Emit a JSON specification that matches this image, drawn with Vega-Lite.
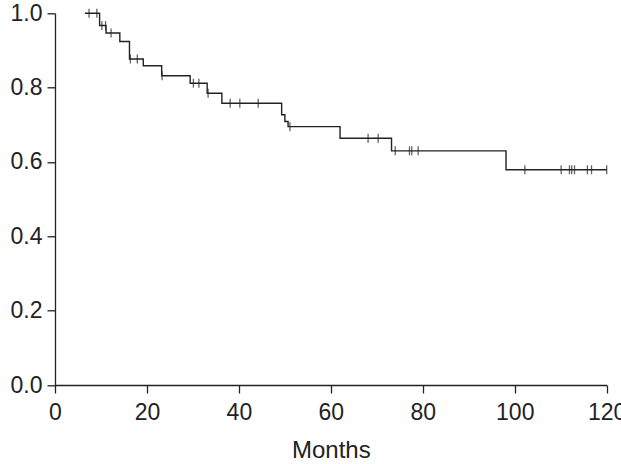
{
  "$schema": "https://vega.github.io/schema/vega-lite/v6.json",
  "width": 551.7,
  "height": 371.7,
  "autosize": "none",
  "padding": {"left": 55, "top": 13.3, "right": 14.3, "bottom": 79},
  "background": "white",
  "config": {
    "view": {"stroke": null},
    "font": "Liberation Sans",
    "axis": {
      "grid": false,
      "domainColor": "#222",
      "domainWidth": 1.3,
      "tickColor": "#222",
      "tickWidth": 1.3,
      "tickSize": 8,
      "labelFontSize": 23,
      "labelColor": "#222",
      "labelFlush": false,
      "labelOverlap": false,
      "titleFontSize": 24,
      "titleFontWeight": "normal",
      "titleColor": "#222"
    }
  },
  "datasets": {
    "steps": [
      {"t": 6.5, "s": 1.0},
      {"t": 9.7, "s": 0.967},
      {"t": 11.1, "s": 0.947},
      {"t": 14.1, "s": 0.924},
      {"t": 16.2, "s": 0.877},
      {"t": 19.2, "s": 0.859},
      {"t": 23.2, "s": 0.832},
      {"t": 29.4, "s": 0.812},
      {"t": 33.1, "s": 0.785},
      {"t": 36.3, "s": 0.758},
      {"t": 49.3, "s": 0.727},
      {"t": 50.0, "s": 0.709},
      {"t": 50.7, "s": 0.695},
      {"t": 62.0, "s": 0.664},
      {"t": 73.2, "s": 0.63},
      {"t": 98.1, "s": 0.579},
      {"t": 120.0, "s": 0.579}
    ],
    "censored": [
      {"t": 7.4, "s": 1.0},
      {"t": 9.1, "s": 1.0},
      {"t": 10.2, "s": 0.967},
      {"t": 11.0, "s": 0.967},
      {"t": 12.2, "s": 0.947},
      {"t": 16.4, "s": 0.877},
      {"t": 17.9, "s": 0.877},
      {"t": 23.3, "s": 0.832},
      {"t": 30.1, "s": 0.812},
      {"t": 31.3, "s": 0.812},
      {"t": 33.3, "s": 0.785},
      {"t": 38.1, "s": 0.758},
      {"t": 40.2, "s": 0.758},
      {"t": 44.2, "s": 0.758},
      {"t": 51.1, "s": 0.695},
      {"t": 68.1, "s": 0.664},
      {"t": 70.3, "s": 0.664},
      {"t": 74.0, "s": 0.63},
      {"t": 77.1, "s": 0.63},
      {"t": 77.6, "s": 0.63},
      {"t": 79.0, "s": 0.63},
      {"t": 102.2, "s": 0.579},
      {"t": 110.1, "s": 0.579},
      {"t": 111.9, "s": 0.579},
      {"t": 112.4, "s": 0.579},
      {"t": 113.0, "s": 0.579},
      {"t": 115.8, "s": 0.579},
      {"t": 116.7, "s": 0.579},
      {"t": 120.0, "s": 0.579}
    ]
  },
  "layer": [
    {
      "data": {"name": "steps"},
      "mark": {"type": "line", "interpolate": "step-after", "color": "#222", "strokeWidth": 1.4},
      "encoding": {
        "x": {
          "field": "t", "type": "quantitative",
          "scale": {"domain": [0, 120], "nice": false, "zero": false},
          "axis": {"title": "Months", "values": [0, 20, 40, 60, 80, 100, 120], "labelPadding": 8, "titlePadding": 14}
        },
        "y": {
          "field": "s", "type": "quantitative",
          "scale": {"domain": [0, 1], "nice": false},
          "axis": {"title": null, "values": [0, 0.2, 0.4, 0.6, 0.8, 1.0], "format": ".1f", "labelPadding": 5}
        }
      }
    },
    {
      "data": {"name": "censored"},
      "mark": {"type": "tick", "orient": "vertical", "color": "#222", "size": 9, "thickness": 1.3},
      "encoding": {
        "x": {"field": "t", "type": "quantitative"},
        "y": {"field": "s", "type": "quantitative"}
      }
    }
  ]
}
